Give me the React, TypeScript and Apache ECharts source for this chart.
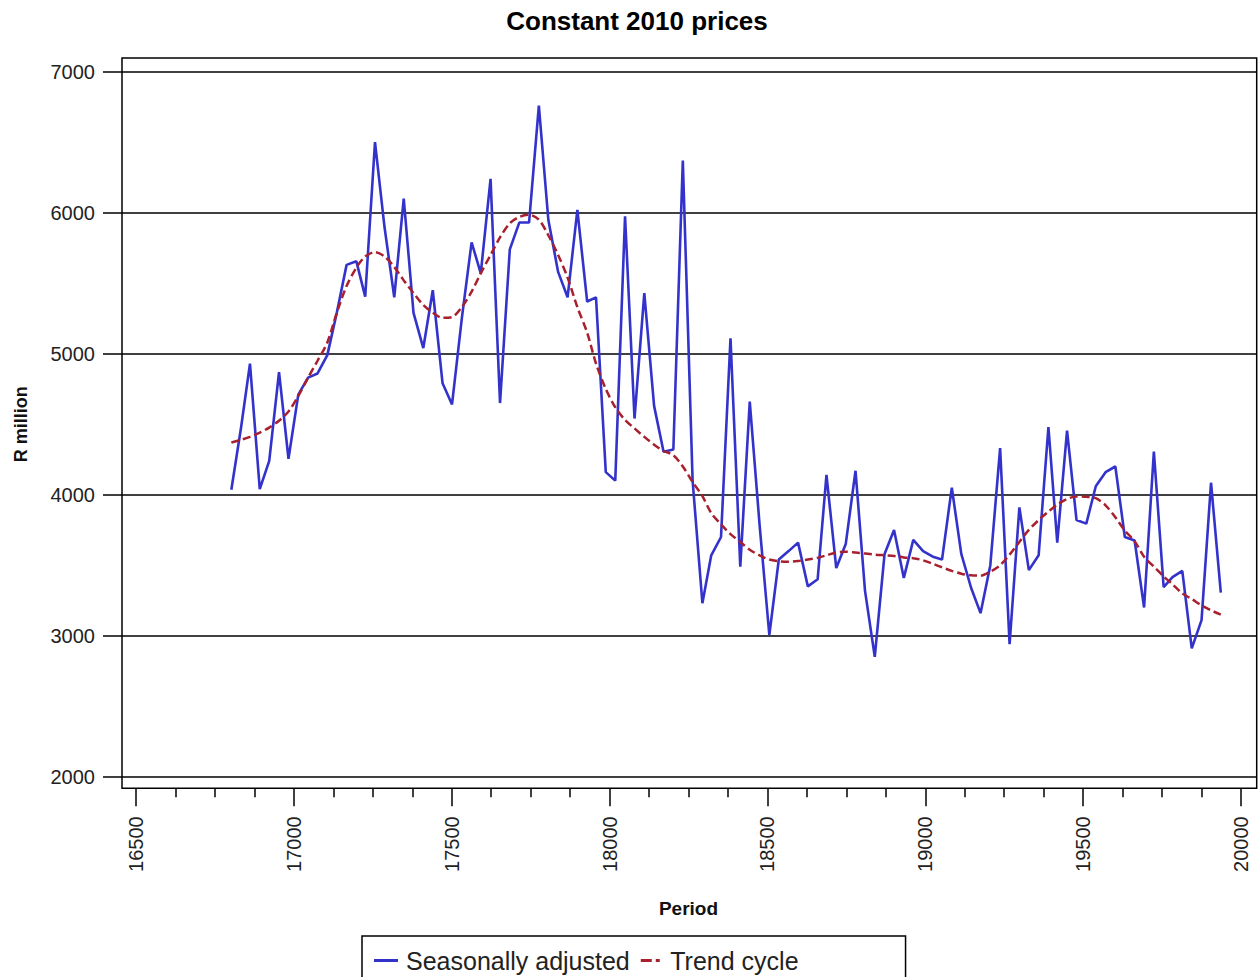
import React, { useEffect, useRef } from "react";
import * as echarts from "echarts";

// Monthly series starting January 2006; x values are day counts since 1 Jan 1960 (SAS dates)
const START_YEAR = 2006;

const seasonallyAdjusted = [
  4035, 4480, 4930, 4040, 4240, 4870, 4255, 4710, 4830, 4860, 4990, 5290,
  5630, 5655, 5405, 6500, 5900, 5400, 6100, 5290, 5040, 5450, 4790, 4640,
  5250, 5790, 5570, 6240, 4650, 5740, 5930, 5930, 6760, 5950, 5580, 5400,
  6020, 5370, 5400, 4160, 4100, 5975, 4540, 5430, 4630, 4305, 4320, 6370,
  4100, 3230, 3570, 3700, 5110, 3490, 4660, 3790, 3005, 3540, 3600, 3660,
  3350, 3400, 4140, 3480, 3650, 4170, 3320, 2850, 3580, 3750, 3410, 3680,
  3600, 3560, 3540, 4050, 3580, 3340, 3160, 3500, 4330, 2940, 3910, 3465,
  3570, 4480, 3660, 4455, 3820, 3795, 4060, 4160, 4200, 3700, 3675, 3200,
  4305, 3345, 3415, 3460, 2910, 3110, 4085, 3305,
];

const trendCycle = [
  4370, 4390, 4410, 4440, 4476, 4525, 4590, 4700, 4830, 4950, 5080, 5290,
  5480, 5610, 5690, 5720, 5690, 5615, 5520, 5430, 5345, 5290, 5255, 5260,
  5330, 5440, 5570, 5700, 5825, 5925, 5970, 5985, 5950, 5840, 5700, 5540,
  5330, 5150, 4930, 4750, 4620, 4530, 4470, 4410, 4355, 4310, 4280, 4200,
  4090, 3990, 3870, 3790, 3720, 3665, 3610, 3570, 3540, 3528, 3525, 3530,
  3540, 3552, 3570, 3590, 3596, 3590, 3583, 3575, 3570, 3565, 3555, 3550,
  3535, 3510, 3485, 3460, 3440, 3428, 3426, 3455, 3500, 3575, 3665, 3750,
  3820, 3880, 3930, 3970, 3988, 3985, 3975, 3925, 3840, 3745, 3670, 3560,
  3490, 3420, 3365, 3300, 3260, 3215, 3180, 3150,
];

const periods = seasonallyAdjusted.map(
  (_, i) => (Date.UTC(START_YEAR, i, 1) - Date.UTC(1960, 0, 1)) / 86400000
);

const yTicks = { min: 2000, max: 7000, step: 1000 };
const xTicks = { min: 16500, max: 20000, step: 500 };

const SA_COLOR = "#3333CC";
const TC_COLOR = "#A8202E";
const FONT = "'Liberation Sans', Arial, Helvetica, sans-serif";

export default function App() {
  const ref = useRef<HTMLDivElement>(null);

  useEffect(() => {
    if (!ref.current) return;
    const chart = echarts.init(ref.current, undefined, { renderer: "svg" });

    const saData = periods.map((p, i) => [p, seasonallyAdjusted[i]]);
    const tcData = periods.map((p, i) => [p, trendCycle[i]]);
    const plain = (v: number) => String(v);

    const option: any = {
      animation: false,
      backgroundColor: "#ffffff",
      textStyle: { fontFamily: FONT },
      title: {
        text: "Constant 2010 prices",
        left: 637,
        top: 8,
        textAlign: "center",
        padding: 0,
        textStyle: { fontSize: 26, fontWeight: "bold", color: "#000", fontFamily: FONT },
      },
      legend: {
        left: 362,
        top: 936,
        orient: "horizontal",
        padding: [12, 107, 30, 12],
        itemWidth: 24,
        itemHeight: 3,
        itemGap: 11,
        borderColor: "#000",
        borderWidth: 1.5,
        textStyle: { fontSize: 25, color: "#222", fontFamily: FONT, padding: [0, 0, 0, 3] },
        data: [
          { name: "Seasonally adjusted", icon: "rect", itemStyle: { color: SA_COLOR } },
          {
            name: "Trend cycle",
            icon: "path://M0,0h11v3h-11z M15,0h4v3h-4z",
            itemStyle: { color: TC_COLOR },
          },
        ],
      },
      grid: [
        {
          left: 122,
          top: 58,
          width: 1134.7,
          height: 730.3,
          show: true,
          borderColor: "#000",
          borderWidth: 1.5,
          backgroundColor: "transparent",
        },
        { left: 122, top: 71.7, width: 1134.7, height: 705 },
        { left: 136, top: 58, width: 1105, height: 730.3 },
      ],
      xAxis: [
        { gridIndex: 0, type: "value", min: 0, max: 1, show: false },
        { gridIndex: 1, type: "value", min: 16455.65, max: 20049.7, show: false },
        {
          gridIndex: 2,
          type: "value",
          min: xTicks.min,
          max: xTicks.max,
          interval: xTicks.step,
          position: "bottom",
          axisLine: { show: false },
          axisTick: { show: true, length: 18, lineStyle: { color: "#000", width: 1.5 } },
          minorTick: { show: true, splitNumber: 4, length: 9, lineStyle: { color: "#000", width: 1.5 } },
          splitLine: { show: false },
          axisLabel: { rotate: 90, margin: 28, fontSize: 20, color: "#222", fontFamily: FONT, formatter: plain },
          name: "Period",
          nameLocation: "middle",
          nameGap: 111,
          nameTextStyle: { fontWeight: "bold", fontSize: 19, color: "#111", fontFamily: FONT },
        },
      ],
      yAxis: [
        { gridIndex: 0, type: "value", min: 0, max: 1, show: false },
        {
          gridIndex: 1,
          type: "value",
          min: yTicks.min,
          max: yTicks.max,
          interval: yTicks.step,
          axisLine: { show: false },
          axisTick: { show: true, length: 19, lineStyle: { color: "#000", width: 1.5 } },
          splitLine: { show: true, lineStyle: { color: "#000", width: 1.5 } },
          axisLabel: { margin: 27, fontSize: 20, color: "#222", fontFamily: FONT, formatter: plain },
          name: "R million",
          nameLocation: "middle",
          nameRotate: 90,
          nameGap: 92,
          nameTextStyle: { fontWeight: "bold", fontSize: 18, color: "#111", fontFamily: FONT },
        },
        { gridIndex: 2, type: "value", min: 0, max: 1, show: false },
      ],
      series: [
        {
          name: "Seasonally adjusted",
          type: "line",
          xAxisIndex: 1,
          yAxisIndex: 1,
          data: saData,
          symbol: "none",
          lineStyle: { color: SA_COLOR, width: 2.6 },
          itemStyle: { color: SA_COLOR },
          z: 3,
        },
        {
          name: "Trend cycle",
          type: "line",
          xAxisIndex: 1,
          yAxisIndex: 1,
          data: tcData,
          symbol: "none",
          smooth: 0.3,
          lineStyle: { color: TC_COLOR, width: 2.5, type: [8, 4] },
          itemStyle: { color: TC_COLOR },
          z: 4,
        },
      ],
    };

    chart.setOption(option);
    return () => chart.dispose();
  }, []);

  return (
    <div
      ref={ref}
      style={{ position: "absolute", left: 0, top: 0, width: 1260, height: 977, background: "#fff" }}
    />
  );
}
